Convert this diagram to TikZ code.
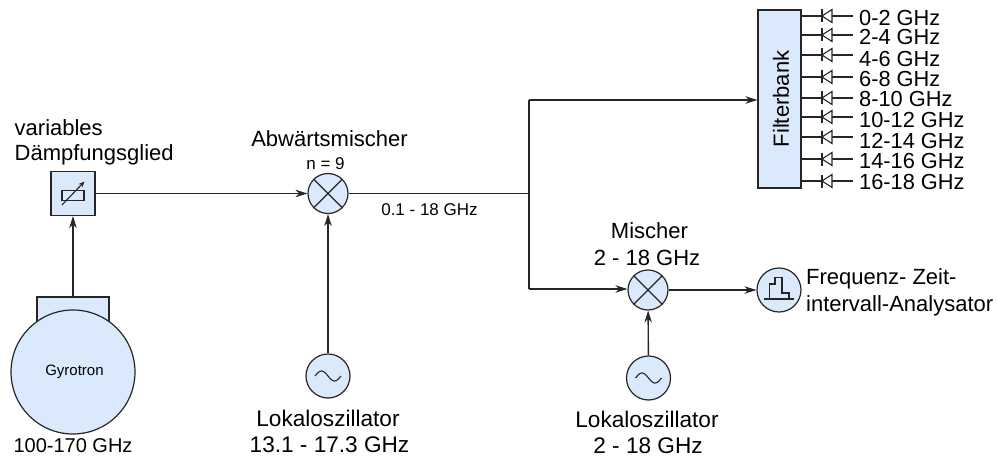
\documentclass[tikz,border=0pt]{standalone}
\usepackage{fontspec}
\setmainfont{Liberation Sans}
\usetikzlibrary{arrows.meta}
\definecolor{fillb}{HTML}{DAE9FB}
\tikzset{
  x=1pt,y=-1pt,
  wire/.style={line width=1.1pt,black!85},
  arr/.style={wire,-{Stealth[length=12pt,width=7.5pt]}},
  block/.style={draw=black!85,line width=1.2pt,fill=fillb,inner sep=0pt},
  round/.style={block,circle,minimum size=#1},
  txt/.style={font=\fontsize{22}{25}\selectfont,inner sep=0pt,align=center},
  lotxt/.style={txt,font=\fontsize{22.6}{25}\selectfont},
  outtxt/.style={inner sep=0pt,font=\fontsize{21.8}{20}\selectfont},
  small/.style={font=\fontsize{17}{20}\selectfont,inner sep=0pt},
  sym/.style={line width=1.1pt,black!85},
}
\newcommand{\crossin}[1]{\draw[sym] (#1.45)--(#1.225) (#1.135)--(#1.315);}
\newcommand{\sinein}[1]{\draw[sym,shift={(#1.center)}] plot[smooth,samples=31,domain=-13:13] ({\x},{5*sin(\x*180/13)});}
\begin{document}
\begin{tikzpicture}
\useasboundingbox (0,0) rectangle (997,460);
% gyrotron
\node[block,minimum width=72pt,minimum height=30pt] (gyrcap) at (73,312) {};
\node[round=124pt] (gyr) at (73,372) {};
\node[small,font=\fontsize{15}{18}\selectfont] (gyrt) at (74.5,372) {Gyrotron};
\node[txt,font=\fontsize{20}{23}\selectfont] (gyrf) at (73,446) {100-170 GHz};
% attenuator
\node[block,minimum size=44pt] (att) at (73,193.5) {};
\draw[sym] (62,190.5) rectangle (84,200.5);
\draw[sym,-{Stealth[length=6pt,width=5pt]}] (62,205) -- (84.5,181.5);
\node[txt,anchor=west] (attl) at (14.5,127.5) {variables};
\node[txt,anchor=west] (attl3) at (14.5,155) {Dämpfungsglied};
% mixer 1
\node[round=40pt] (m1) at (328,193.5) {};
\crossin{m1}
\node[txt] (m1l) at (329.5,139) {Abwärtsmischer};
\node[small] (m1n) at (325.5,164) {n = 9};
\node[small] (m1f) at (429.5,209.5) {0.1 - 18 GHz};
% LO1
\node[round=44pt] (lo1) at (328,376) {};
\sinein{lo1}
\node[lotxt] (lo1a) at (328,418) {Lokaloszillator};
\node[lotxt] (lo1b) at (329.5,445) {13.1 - 17.3 GHz};
% filter bank
\node[block,minimum width=43pt,minimum height=178pt] (filt) at (779.5,99) {};
\node[txt,rotate=90] (filtl) at (781,99) {Filterbank};
% mixer 2
\node[round=40pt] (m2) at (648,290) {};
\crossin{m2}
\node[txt] (m2a) at (649.5,231) {Mischer};
\node[txt] (m2b) at (647,258) {2 - 18 GHz};
% LO2
\node[round=44pt] (lo2) at (648.5,378) {};
\sinein{lo2}
\node[lotxt] (lo2a) at (647,419) {Lokaloszillator};
\node[lotxt] (lo2b) at (648,446) {2 - 18 GHz};
% analyser
\node[round=44pt] (ana) at (779,290) {};
\draw[sym] (764,299) -- (794,299);
\draw[sym] (769.5,299) -- (769.5,284) -- (775,284) -- (775,277.5) -- (782,277.5) -- (782,293) -- (789,293) -- (789,299);
\node[txt,anchor=west] (anaa) at (806,279) {Frequenz- Zeit-};
\node[txt,anchor=west] (anab) at (806,306) {intervall-Analysator};
% wiring
\coordinate (jm) at (529,193.5);
\coordinate (jt) at (529,100);
\coordinate (jb) at (529,289);
\draw[arr] (gyrcap) -- (att);
\draw[arr] (att) -- (m1);
\draw[arr] (lo1) -- (m1);
\draw[wire] (m1) -- (jm);
\draw[wire] (jt) -- (jb);
\draw[arr] (jt) -- (filt.west |- jt);
\draw[arr] (jb) -- (m2.west |- jb);
\draw[arr,line width=1.4pt] (lo2) -- (m2);
\draw[arr] (m2) -- (ana);
% outputs
\foreach \i/\yy/\ty/\t in {a/16/18/0-2 GHz,b/35/37/2-4 GHz,c/55/59/4-6 GHz,d/77/78.5/6-8 GHz,e/98/98.5/8-10 GHz,f/117/119.5/10-12 GHz,g/137/141/12-14 GHz,h/159/160.5/14-16 GHz,k/181/182/16-18 GHz}{
  \node[outtxt,anchor=west] (out\i) at (859,\ty) {\t};
  \draw[wire] (filt.east |- 0,\yy) -- (853,\yy);
  \draw[sym,fill=white] (822,\yy) -- (832,\yy-6.5) -- (832,\yy+6.5) -- cycle;
  \draw[sym] (822,\yy-6.5) -- (822,\yy+6.5);
}
\end{tikzpicture}
\end{document}
